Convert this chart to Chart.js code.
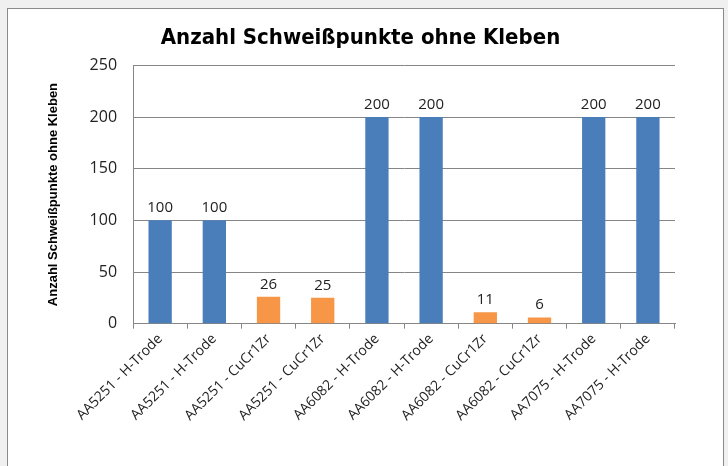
<!DOCTYPE html>
<html>
<head>
<meta charset="utf-8">
<script src="https://cdn.jsdelivr.net/npm/chart.js@4"></script>
<style>
  body { margin: 0; background: #f0f0f0; width: 728px; height: 466px; overflow: hidden; position: relative; }
  #panel { position: absolute; left: 7px; top: 8px; width: 715px; height: 470px; background: #fff; border: 1px solid #8a8a8a; }
  #wrap { position: absolute; left: 0; top: 0; width: 728px; height: 466px; }
</style>
</head>
<body>
<div id="panel"></div>
<div id="wrap"><canvas id="bars"></canvas></div>
<script>
var categories = ['AA5251 - H-Trode', 'AA5251 - H-Trode', 'AA5251 - CuCr1Zr', 'AA5251 - CuCr1Zr',
                  'AA6082 - H-Trode', 'AA6082 - H-Trode', 'AA6082 - CuCr1Zr', 'AA6082 - CuCr1Zr',
                  'AA7075 - H-Trode', 'AA7075 - H-Trode'];
var values = [100, 100, 26, 25, 200, 200, 11, 6, 200, 200];
var barColors = ['#4a7ebb', '#4a7ebb', '#f79646', '#f79646', '#4a7ebb',
                 '#4a7ebb', '#f79646', '#f79646', '#4a7ebb', '#4a7ebb'];
var yTicks = [0, 50, 100, 150, 200, 250];

// values above each bar
var valueLabels = {
    id: 'valueLabels',
    afterDatasetsDraw: function(chart) {
        var ctx = chart.ctx;
        var meta = chart.getDatasetMeta(0);
        ctx.save();
        ctx.font = '15px "Open Sans", sans-serif';
        ctx.fillStyle = '#222';
        ctx.textAlign = 'center';
        ctx.textBaseline = 'bottom';
        meta.data.forEach(function(bar, i) {
            ctx.fillText(values[i], bar.x, bar.y - 5);
        });
        ctx.restore();
    }
};

var ctx = document.getElementById('bars').getContext('2d');
var myChart = new Chart(ctx, {
    type: 'bar',
    data: {
        labels: categories,
        datasets: [{
            label: 'Anzahl Schweißpunkte ohne Kleben',
            data: values,
            backgroundColor: barColors,
            borderWidth: 0,
            categoryPercentage: 1,
            barPercentage: 0.43
        }]
    },
    options: {
        responsive: true,
        maintainAspectRatio: false,
        animation: false,
        layout: {
            padding: { left: 46, right: 53, top: 0, bottom: 40 }
        },
        plugins: {
            legend: { display: false },
            tooltip: { enabled: false },
            title: {
                display: true,
                text: 'Anzahl Schweißpunkte ohne Kleben',
                color: '#000',
                font: { family: '"DejaVu Sans Condensed", "Liberation Sans", sans-serif', size: 22, weight: 'bold' },
                padding: { top: 25, bottom: 14 }
            }
        },
        scales: {
            x: {
                grid: { display: true, drawOnChartArea: false, drawTicks: true, tickLength: 5, color: '#868686' },
                border: { display: true, color: '#868686', width: 1 },
                ticks: {
                    autoSkip: false,
                    minRotation: 45,
                    maxRotation: 45,
                    color: '#222',
                    padding: 2,
                    font: { family: '"Open Sans", sans-serif', size: 14 }
                }
            },
            y: {
                min: 0,
                max: 250,
                afterBuildTicks: function(axis) {
                    axis.ticks = yTicks.map(function(v) { return { value: v }; });
                },
                grid: { color: '#868686', drawTicks: false },
                border: { display: true, color: '#868686', width: 1 },
                ticks: {
                    color: '#222',
                    padding: 16,
                    font: { family: '"Open Sans", sans-serif', size: 16 }
                },
                title: {
                    display: true,
                    text: 'Anzahl Schweißpunkte ohne Kleben',
                    color: '#000',
                    font: { family: '"Liberation Sans", sans-serif', size: 13, weight: 'bold' },
                    padding: { top: 0, bottom: 12 }
                }
            }
        }
    },
    plugins: [valueLabels]
});
</script>
</body>
</html>
